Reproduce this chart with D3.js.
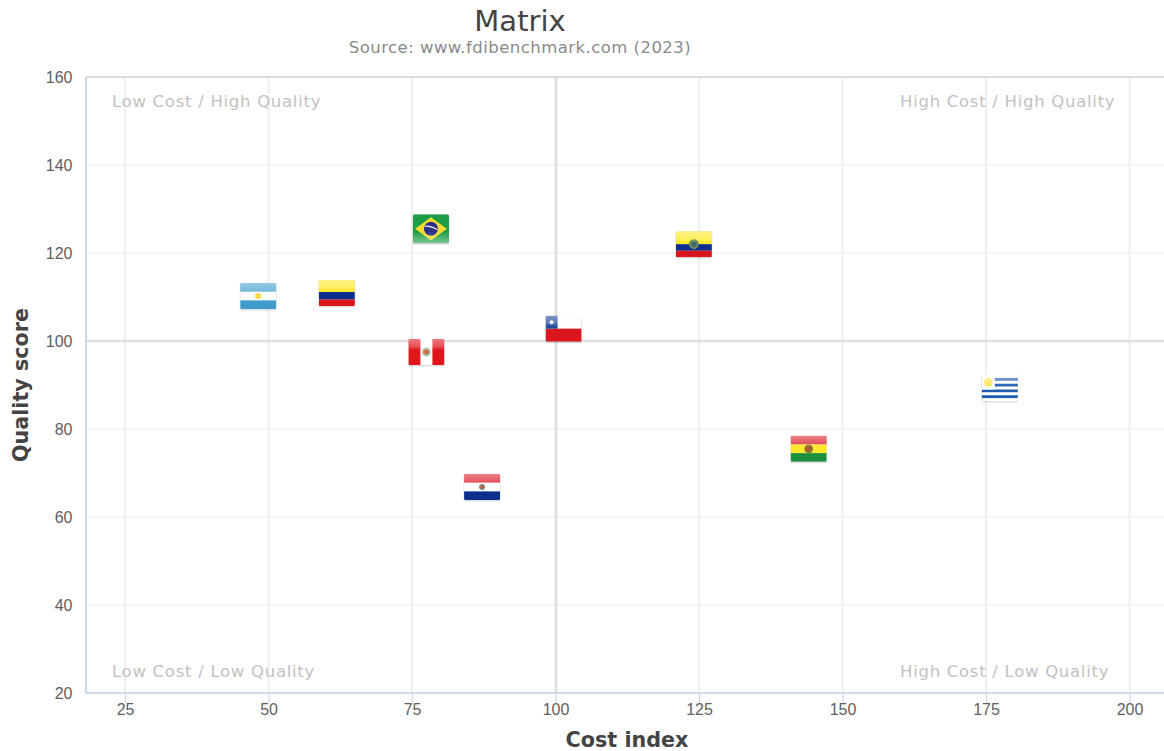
<!DOCTYPE html>
<html>
<head>
<meta charset="utf-8">
<script src="https://cdn.jsdelivr.net/npm/d3@7"></script>
<style>
  html, body { margin: 0; padding: 0; background: #fff; }
  svg { display: block; font-family: "DejaVu Sans", sans-serif; }
</style>
</head>
<body>
<div id="chart"></div>
<script>
// Country positions: cost index against quality score
const countries = ["Argentina", "Colombia", "Brazil", "Peru", "Chile", "Ecuador", "Paraguay", "Bolivia", "Uruguay"];
const costIndex = [48.2, 61.9, 78.3, 77.5, 101.4, 124.1, 87.2, 144.1, 177.4];
const qualityScore = [110.2, 110.9, 125.5, 97.5, 102.8, 122, 66.8, 75.5, 89.3];

const xTicks = [25, 50, 75, 100, 125, 150, 175, 200];
const yTicks = [20, 40, 60, 80, 100, 120, 140, 160];

const quadrantLabels = ["Low Cost / High Quality", "High Cost / High Quality", "Low Cost / Low Quality", "High Cost / Low Quality"];

const width = 1164, height = 751;
const plot = { left: 86, right: 1164, top: 77, bottom: 693 };

const x = d3.scaleLinear().domain([18.2, 206]).range([plot.left, plot.right]);
const y = d3.scaleLinear().domain([20, 160]).range([plot.bottom, plot.top]);

const svg = d3.select("#chart").append("svg").attr("width", width).attr("height", height);
const defs = svg.append("defs");

// Glossy sheen shared by the flags: pale at the top, fading out by the middle
const sheen = defs.append("linearGradient").attr("id", "sheen").attr("x1", 0).attr("y1", 0).attr("x2", 0).attr("y2", 1);
sheen.append("stop").attr("offset", 0).attr("stop-color", "#fff").attr("stop-opacity", 0.42);
sheen.append("stop").attr("offset", 0.28).attr("stop-color", "#fff").attr("stop-opacity", 0.26);
sheen.append("stop").attr("offset", 0.42).attr("stop-color", "#fff").attr("stop-opacity", 0);
sheen.append("stop").attr("offset", 1).attr("stop-color", "#fff").attr("stop-opacity", 0);

// The Brazilian flag lightens towards its lower edge instead
const lowSheen = defs.append("linearGradient").attr("id", "lowSheen").attr("x1", 0).attr("y1", 0).attr("x2", 0).attr("y2", 1);
lowSheen.append("stop").attr("offset", 0.6).attr("stop-color", "#fff").attr("stop-opacity", 0);
lowSheen.append("stop").attr("offset", 1).attr("stop-color", "#fff").attr("stop-opacity", 0.42);

defs.append("filter").attr("id", "soften").attr("x", "-10%").attr("y", "-10%").attr("width", "120%").attr("height", "120%")
  .append("feGaussianBlur").attr("stdDeviation", 0.6);

const flagW = 36, flagH = 26, brazilH = 29;
const heightOf = name => name === "Brazil" ? brazilH : flagH;

// Gridlines
const grid = svg.append("g");
grid.selectAll(".gx").data(xTicks).join("line")
  .attr("x1", d => x(d)).attr("x2", d => x(d))
  .attr("y1", plot.top).attr("y2", plot.bottom)
  .attr("stroke", "#eeeef0").attr("stroke-width", 2);
grid.selectAll(".gy").data(yTicks.filter(d => d !== 20 && d !== 160)).join("line")
  .attr("x1", plot.left).attr("x2", plot.right)
  .attr("y1", d => y(d)).attr("y2", d => y(d))
  .attr("stroke", "#f0f0f1").attr("stroke-width", 1.7);

// Reference lines splitting the plot into quadrants
grid.append("line").attr("x1", x(100) + 0.5).attr("x2", x(100) + 0.5).attr("y1", plot.top).attr("y2", plot.bottom)
  .attr("stroke", "#e0e0e0").attr("stroke-width", 2.8);
grid.append("line").attr("x1", plot.left).attr("x2", plot.right).attr("y1", y(100)).attr("y2", y(100))
  .attr("stroke", "#e0e0e0").attr("stroke-width", 2.4);

// Plot frame
svg.append("line").attr("x1", plot.left).attr("x2", plot.right).attr("y1", plot.top).attr("y2", plot.top)
  .attr("stroke", "#cfcfcf").attr("stroke-width", 1.6);

// Axes
const xAxis = svg.append("g").attr("transform", `translate(0,${plot.bottom})`)
  .call(d3.axisBottom(x).tickValues(xTicks).tickSize(10).tickPadding(1));
const yAxis = svg.append("g").attr("transform", `translate(${plot.left},0)`)
  .call(d3.axisLeft(y).tickValues(yTicks).tickSize(0).tickPadding(13.5));
[xAxis, yAxis].forEach(a => {
  a.selectAll("path").attr("stroke", "#bed0e4").attr("stroke-width", 1.6);
  a.selectAll("line").attr("stroke", "#c8d6e6").attr("stroke-width", 1.2);
  a.selectAll("text").attr("fill", "#606060").attr("font-size", 16);
});
xAxis.select("path").attr("d", `M${plot.left},0H${plot.right}`);
yAxis.select("path").attr("d", `M0,${plot.top}V${plot.bottom}`);

// Titles
svg.append("text").attr("x", 520).attr("y", 31).attr("text-anchor", "middle")
  .attr("font-size", 29).attr("fill", "#444").text("Matrix");
svg.append("text").attr("x", 520).attr("y", 53).attr("text-anchor", "middle")
  .attr("font-size", 16.5).attr("letter-spacing", 0.46).attr("fill", "#8a8a8a").text("Source: www.fdibenchmark.com (2023)");
svg.append("text").attr("x", 627).attr("y", 747).attr("text-anchor", "middle")
  .attr("font-size", 20.7).attr("font-weight", "bold").attr("fill", "#444").text("Cost index");
svg.append("text").attr("transform", "translate(27.5,385) rotate(-90)").attr("text-anchor", "middle")
  .attr("font-size", 20.7).attr("font-weight", "bold").attr("fill", "#444").text("Quality score");

// Quadrant captions
const captionAnchor = [[112, 107], [900, 107], [112, 677], [900, 677]];
svg.selectAll(".quad").data(quadrantLabels).join("text")
  .attr("x", (d, i) => captionAnchor[i][0]).attr("y", (d, i) => captionAnchor[i][1])
  .attr("font-size", 16.5).attr("letter-spacing", 0.72).attr("fill", "#c2c2c2").text(d => d);

// Flag artwork: horizontal bands, with the emblem added per country
function bands(g, h, fractions, colors) {
  let top = -h / 2;
  fractions.forEach((f, i) => {
    g.append("rect").attr("x", -flagW / 2).attr("y", top).attr("width", flagW).attr("height", f * h).attr("fill", colors[i]);
    top += f * h;
  });
}
function emblem(g, r, fill, inner) {
  g.append("circle").attr("r", r).attr("fill", fill);
  if (inner) g.append("circle").attr("r", r * 0.55).attr("fill", inner);
}
const flagArt = {
  Argentina(g, h) {
    bands(g, h, [1/3, 1/3, 1/3], ["#4aa3d0", "#ffffff", "#3f9ccb"]);
    emblem(g, 3, "#fbd84a");
  },
  Colombia(g, h) {
    bands(g, h, [0.46, 0.29, 0.25], ["#fde92c", "#0a2f8e", "#d9141f"]);
  },
  Brazil(g, h) {
    bands(g, h, [1], ["#1f9e46"]);
    g.append("path").attr("d", `M${-flagW * 0.44},0L0,${-h * 0.4}L${flagW * 0.44},0L0,${h * 0.4}Z`).attr("fill", "#f6dc2a");
    g.append("circle").attr("r", 7).attr("fill", "#2f2f8b");
    g.append("path").attr("d", "M-6.5,-2.5Q0,-3.5 6.5,1").attr("fill", "none").attr("stroke", "#e8e8f0").attr("stroke-width", 1.1);
  },
  Peru(g, h) {
    bands(g, h, [1], ["#fff"]);
    g.append("rect").attr("x", -flagW / 2).attr("y", -h / 2).attr("width", flagW / 3).attr("height", h).attr("fill", "#e0141e");
    g.append("rect").attr("x", flagW / 6).attr("y", -h / 2).attr("width", flagW / 3).attr("height", h).attr("fill", "#e0141e");
    emblem(g, 4.4, "#a5bba5", "#d8663a");
  },
  Chile(g, h) {
    bands(g, h, [0.5, 0.5], ["#ffffff", "#dc141e"]);
    g.append("rect").attr("x", -flagW / 2).attr("y", -h / 2).attr("width", 12).attr("height", h / 2).attr("fill", "#1f4a9e");
    emblem(g.append("g").attr("transform", `translate(${-flagW / 2 + 6},${-h / 4})`), 2, "#fff");
  },
  Ecuador(g, h) {
    bands(g, h, [0.5, 0.25, 0.25], ["#fde92c", "#0a2f8e", "#d9141f"]);
    emblem(g, 5, "#6f8a5a", "#3d6b78");
  },
  Paraguay(g, h) {
    bands(g, h, [1/3, 1/3, 1/3], ["#dc1f2a", "#ffffff", "#0a2f8e"]);
    emblem(g, 3, "#7a8f7a", "#c8553a");
  },
  Bolivia(g, h) {
    bands(g, h, [1/3, 1/3, 1/3], ["#dc1f2a", "#fde92c", "#1c8f3a"]);
    emblem(g, 4.4, "#8a7a30", "#b5552a");
  },
  Uruguay(g, h) {
    const n = 9;
    for (let i = 0; i < n; i++) {
      g.append("rect").attr("x", -flagW / 2).attr("y", -h / 2 + i * h / n)
        .attr("width", flagW).attr("height", h / n).attr("fill", i % 2 ? "#1d5cb0" : "#ffffff");
    }
    g.append("rect").attr("x", -flagW / 2).attr("y", -h / 2).attr("width", 13).attr("height", h * 5 / 9).attr("fill", "#fff");
    emblem(g.append("g").attr("transform", `translate(${-flagW / 2 + 6.5},${-h / 2 + 7})`), 4.4, "#fbe64a");
  }
};

// Country markers
const marks = svg.selectAll(".flag").data(countries).join("g")
  .attr("class", "flag")
  .attr("transform", (d, i) => `translate(${x(costIndex[i])},${y(qualityScore[i])})`);

marks.append("rect")
  .attr("x", -flagW / 2 - 0.5).attr("y", d => -heightOf(d) / 2)
  .attr("width", flagW + 1).attr("height", d => heightOf(d) + 1.5)
  .attr("rx", 2).attr("fill", "#000").attr("opacity", 0.12).attr("filter", "url(#soften)");

marks.each(function (d, i) {
  const h = heightOf(d);
  defs.append("clipPath").attr("id", "flagClip" + i).append("rect")
    .attr("x", -flagW / 2).attr("y", -h / 2).attr("width", flagW).attr("height", h).attr("rx", 1.5);
  const body = d3.select(this).append("g").attr("filter", "url(#soften)")
    .append("g").attr("clip-path", `url(#flagClip${i})`);
  flagArt[d](body, h);
  body.append("rect").attr("x", -flagW / 2).attr("y", -h / 2).attr("width", flagW).attr("height", h)
    .attr("fill", d === "Brazil" ? "url(#lowSheen)" : "url(#sheen)");
});
marks.append("title").text(d => d);
</script>
</body>
</html>
